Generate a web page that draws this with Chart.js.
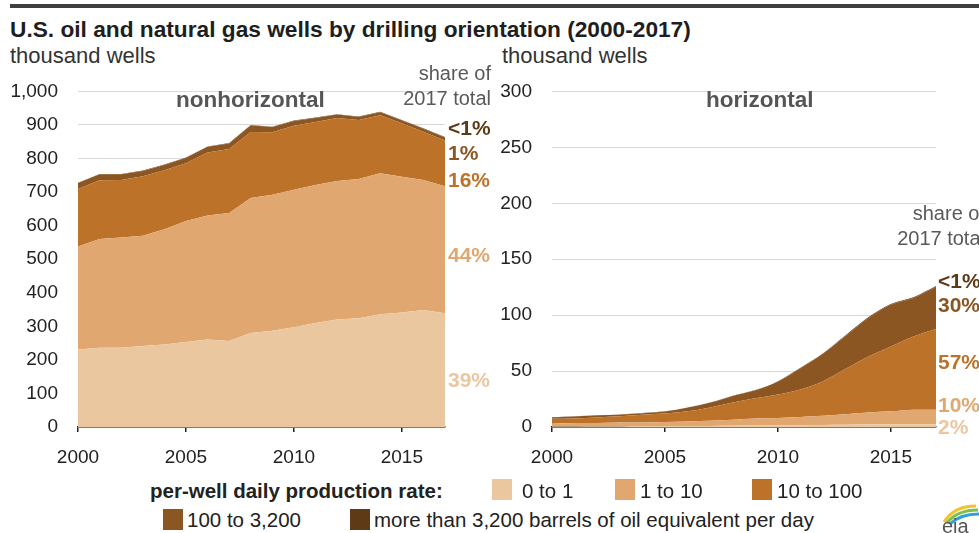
<!DOCTYPE html>
<html>
<head>
<meta charset="utf-8">
<script src="https://cdn.jsdelivr.net/npm/chart.js"></script>
<style>
  body { margin: 0; width: 979px; height: 533px; overflow: hidden; background: #fff;
         font-family: "Liberation Sans", Arial, sans-serif; position: relative; }
  .abs { position: absolute; white-space: nowrap; }
  #topbar { left: 10px; top: 4px; width: 969px; height: 4px; background: #3f3f3f; }
  #title { left: 10px; top: 16px; font-size: 22.7px; font-weight: bold; color: #1e1e1e; }
  .unit { top: 43px; font-size: 22px; color: #333; }
  .panel { font-size: 22.5px; font-weight: bold; color: #555; }
  .share { font-size: 20px; color: #595959; text-align: right; line-height: 25px; }
  .pct { font-size: 21px; font-weight: bold; line-height: 22px; }
  .leg { font-size: 20.5px; color: #222; }
  .sw { position: absolute; width: 20px; height: 21px; }
  canvas { position: absolute; }
</style>
</head>
<body>
<div id="topbar" class="abs"></div>
<div id="title" class="abs">U.S. oil and natural gas wells by drilling orientation (2000-2017)</div>
<div class="abs unit" style="left:10px">thousand wells</div>
<div class="abs unit" style="left:502px">thousand wells</div>

<div style="position:absolute;left:0;top:60px;width:500px;height:410px"><canvas id="left"></canvas></div>
<div style="position:absolute;left:480px;top:60px;width:499px;height:410px"><canvas id="right"></canvas></div>

<div class="abs panel" style="left:176px;top:87px">nonhorizontal</div>
<div class="abs panel" style="left:706px;top:87px">horizontal</div>

<div class="abs share" style="right:488px;top:61px">share of<br>2017 total</div>
<div class="abs share" style="right:-6px;top:201px">share of<br>2017 total</div>

<div class="abs pct" style="left:448px;top:117px;color:#5e3a17">&lt;1%</div>
<div class="abs pct" style="left:448px;top:142px;color:#8b5622">1%</div>
<div class="abs pct" style="left:448px;top:169px;color:#bd7229">16%</div>
<div class="abs pct" style="left:448px;top:244px;color:#e0a870">44%</div>
<div class="abs pct" style="left:448px;top:369px;color:#ebc7a0">39%</div>

<div class="abs pct" style="left:938px;top:270px;color:#5e3a17">&lt;1%</div>
<div class="abs pct" style="left:938px;top:294px;color:#8b5622">30%</div>
<div class="abs pct" style="left:938px;top:351px;color:#bd7229">57%</div>
<div class="abs pct" style="left:938px;top:394px;color:#e0a870">10%</div>
<div class="abs pct" style="left:938px;top:416px;color:#ebc7a0">2%</div>

<div class="abs leg" style="left:150px;top:479px;font-weight:bold">per-well daily production rate:</div>
<div class="sw" style="left:492px;top:479px;background:#ebc7a0"></div>
<div class="abs leg" style="left:522px;top:479px">0 to 1</div>
<div class="sw" style="left:615px;top:479px;background:#e0a870"></div>
<div class="abs leg" style="left:640px;top:479px">1 to 10</div>
<div class="sw" style="left:752px;top:479px;background:#bd7229"></div>
<div class="abs leg" style="left:777px;top:479px">10 to 100</div>
<div class="sw" style="left:163px;top:509px;background:#8b5622"></div>
<div class="abs leg" style="left:187px;top:508px">100 to 3,200</div>
<div class="sw" style="left:350px;top:509px;background:#5e3a17"></div>
<div class="abs leg" style="left:374px;top:508px">more than 3,200 barrels of oil equivalent per day</div>

<svg class="abs" style="left:936px;top:500px" width="43" height="33">
  <path d="M8 22 Q18 6 40 6" stroke="#f2c12e" stroke-width="3" fill="none"/>
  <path d="M11 23 Q21 10 42 10" stroke="#7cc04b" stroke-width="3" fill="none"/>
  <path d="M14 24 Q24 14 43 14" stroke="#2f9fd8" stroke-width="3" fill="none"/>
  <text x="6" y="33" font-size="20" fill="#555" font-family="Liberation Sans">eia</text>
</svg>

<script>
var years = [2000,2001,2002,2003,2004,2005,2006,2007,2008,2009,2010,2011,2012,2013,2014,2015,2016,2017]
var rateLabels = ['0 to 1','1 to 10','10 to 100','100 to 3,200','more than 3,200']
var rateColors = ['#ebc7a0','#e0a870','#bd7229','#8b5622','#5e3a17']

// nonhorizontal wells, thousand
var nh_0_1     = [231,236,236,241,246,253,261,256,280,287,297,310,320,324,336,341,349,339]
var nh_1_10    = [307,324,329,329,343,361,369,382,402,405,410,411,413,415,420,405,387,378]
var nh_10_100  = [171,175,171,177,176,172,188,190,197,186,191,188,188,176,173,159,144,137]
var nh_100_3200 = [18,18,17,16,16,16,17,17,20,16,14,12,10,9,9,9,9,9]
var nh_3200    = [1,1,1,1,1,1,1,1,1,1,1,1,1,1,1,1,1,1]

// horizontal wells, thousand
var h_0_1      = [0.5,0.5,0.6,0.7,0.8,0.8,0.9,1.0,1.2,1.3,1.4,1.6,1.8,2.0,2.2,2.4,2.5,2.5]
var h_1_10     = [2.5,3.0,2.9,3.3,3.2,3.7,4.1,4.5,5.3,6.2,6.6,7.4,8.2,9.5,10.8,11.6,13.0,13.0]
var h_10_100   = [4.3,4.0,5.0,5.5,7.0,7.5,9.0,12.0,15.5,18.2,21.0,24.6,31.0,40.5,50.0,58.0,65.5,72.2]
var h_100_3200 = [1.4,1.9,1.9,1.6,1.4,1.9,3.4,4.3,5.8,7.1,11.7,19.0,24.5,29.4,34.3,37.3,34.4,37.7]
var h_3200     = [0.1,0.1,0.1,0.1,0.1,0.1,0.1,0.2,0.2,0.2,0.3,0.4,0.5,0.6,0.7,0.7,0.6,0.6]

var leftTicks = [0,100,200,300,400,500,600,700,800,900,1000]
var rightTicks = [0,50,100,150,200,250,300]

function makeSets(series, smooth) {
  return series.map(function(vals, i) {
    return {
      label: rateLabels[i],
      data: years.map(function(y, j) { return {x: y, y: vals[j]} }),
      backgroundColor: rateColors[i],
      borderColor: rateColors[i],
      borderWidth: 0,
      pointRadius: 0,
      fill: i == 0 ? 'origin' : '-1',
      tension: 0,
      cubicInterpolationMode: smooth ? 'monotone' : 'default'
    }
  })
}

function draw(id, series, maxY, yWidth, padRight, smooth) {
  var ctx = document.getElementById(id).getContext('2d')
  return new Chart(ctx, {
    type: 'line',
    data: { datasets: makeSets(series, smooth) },
    options: {
      responsive: true,
      maintainAspectRatio: false,
      animation: false,
      layout: { padding: { top: 27, right: padRight, left: 0, bottom: 0 } },
      plugins: { legend: { display: false }, tooltip: { enabled: false } },
      scales: {
        x: {
          type: 'linear', min: 2000, max: 2017,
          afterFit: function(s) { s.height = 43 },
          ticks: { stepSize: 5, includeBounds: false, padding: 14, color: '#222',
                   font: { size: 19, family: 'Liberation Sans' },
                   callback: function(v) { return String(v) } },
          grid: { drawOnChartArea: false, drawTicks: true, tickLength: 5, color: '#222', lineWidth: 1.5 },
          border: { display: true, color: '#222', width: 1.5 }
        },
        y: {
          stacked: true, min: 0, max: maxY,
          afterFit: function(s) { s.width = yWidth },
          afterBuildTicks: function(s) {
            s.ticks = (maxY == 1000 ? leftTicks : rightTicks).map(function(v) { return {value: v} })
          },
          ticks: { padding: 20, color: '#222', font: { size: 19, family: 'Liberation Sans' },
                   callback: function(v) { return v.toLocaleString('en-US') } },
          grid: { color: '#d9d9d9', drawTicks: false },
          border: { display: false }
        }
      }
    }
  })
}

draw('left', [nh_0_1, nh_1_10, nh_10_100, nh_100_3200, nh_3200], 1000, 78, 55, false)
draw('right', [h_0_1, h_1_10, h_10_100, h_100_3200, h_3200], 300, 72, 43, true)
</script>
</body>
</html>
